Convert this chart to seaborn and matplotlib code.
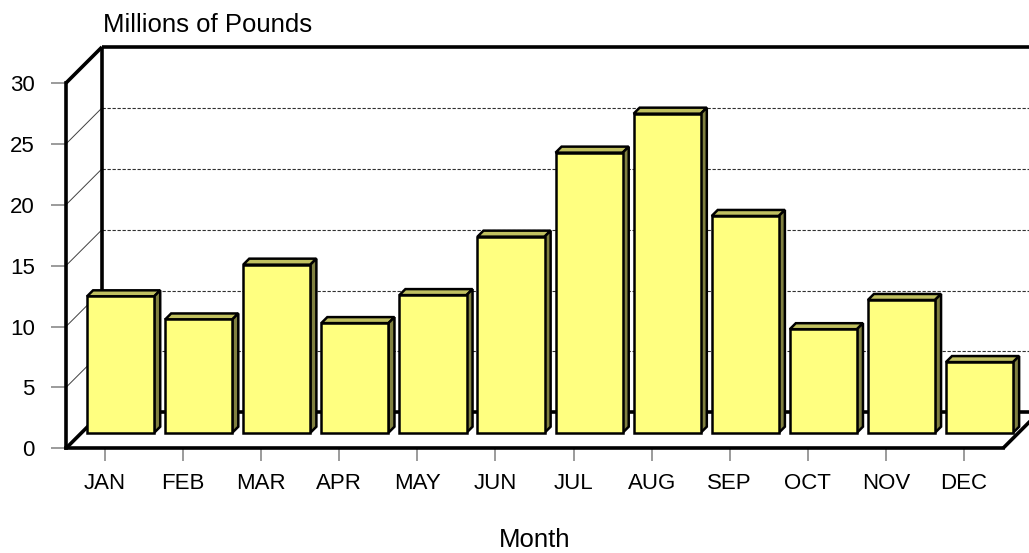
#============================= IMPORT LIBRARIES =============================

import pandas as pd
import numpy as np
import seaborn as sns
import matplotlib
matplotlib.use("Agg")
import matplotlib.pyplot as plt
from matplotlib.patches import Polygon

#============================= DATA =========================================

months = ["JAN", "FEB", "MAR", "APR", "MAY", "JUN",
          "JUL", "AUG", "SEP", "OCT", "NOV", "DEC"]
pounds = [11.2, 9.3, 13.8, 9.0, 11.3, 16.1,
          23.0, 26.2, 17.8, 8.5, 10.9, 5.8]
y_ticks = [0, 5, 10, 15, 20, 25, 30]

df = pd.DataFrame({"Month": months, "Pounds": pounds})

#============================= STYLE ========================================

sns.set_theme(style="white")
plt.rcParams['font.family'] = ['Liberation Sans', 'DejaVu Sans']
plt.rcParams['text.color'] = "black"
plt.rcParams['axes.labelcolor'] = "black"

W, H, DPI = 1029, 553, 100
front_col = "#FFFF80"
top_col = "#C0C060"
side_col = "#808040"
edge_lw = 1.8

# depth of the 3d box in pixels
wall_d = 36
bar_d0 = 15.6
bar_d1 = 21.6

fig = plt.figure(figsize=(W / DPI, H / DPI), dpi=DPI)
ax = fig.add_axes([66 / W, 1 - 448.3 / H, (1003 - 66) / W, (448.3 - 83) / H])

#============================= BARS =========================================

sns.barplot(data=df, x="Month", y="Pounds", color=front_col, saturation=1,
            width=0.86, edgecolor="black", linewidth=edge_lw, ax=ax, zorder=3)

ax.set_xlim(-0.5, len(months) - 0.5)
ax.set_ylim(0, 30)

# pixel -> data scale
p0 = ax.transData.transform((0, 0))
sx = ax.transData.transform((1, 0))[0] - p0[0]
sy = ax.transData.transform((0, 1))[1] - p0[1]

def shift(d):
    return d / sx, d / sy

fx, fy = shift(bar_d0)
bx, by = shift(bar_d1)
wx, wy = shift(wall_d)

for p in list(ax.patches):
    x = p.get_x()
    w = p.get_width()
    h = p.get_height()
    p.set_xy((x + fx, fy))
    p.set_clip_on(False)
    top = Polygon([(x + fx, h + fy), (x + w + fx, h + fy),
                   (x + w + bx, h + by), (x + bx, h + by)],
                  closed=True, facecolor=top_col, edgecolor="black",
                  linewidth=edge_lw, zorder=2.5, clip_on=False)
    side = Polygon([(x + w + fx, fy), (x + w + fx, h + fy),
                    (x + w + bx, h + by), (x + w + bx, by)],
                   closed=True, facecolor=side_col, edgecolor="black",
                   linewidth=edge_lw, zorder=2.5, clip_on=False)
    ax.add_patch(top)
    ax.add_patch(side)

#============================= WALLS / GRID =================================

x0, x1 = -0.5, len(months) - 0.5
far = x1 + 1.0

for v in y_ticks[1:-1]:
    # back wall dashed
    ax.plot([x0 + wx, far], [v + wy, v + wy], color="#303030", lw=0.8,
            ls=(0, (3, 1.5)), zorder=1, clip_on=False)
    # side wall
    ax.plot([x0, x0 + wx], [v, v + wy], color="#404040", lw=0.7,
            zorder=1, clip_on=False)

thick = dict(color="black", lw=2.6, solid_capstyle="butt", clip_on=False, zorder=2)
ax.plot([x0 + wx, far], [wy, wy], **thick)
ax.plot([x0 + wx, far], [30 + wy, 30 + wy], **thick)
ax.plot([x0 + wx, x0 + wx], [wy, 30 + wy], **thick)
ax.plot([x0, x0 + wx], [30, 30 + wy], **thick)
ax.plot([x0, x0 + wx], [0, wy], **thick)
ax.plot([x1, x1 + wx], [0, wy], **thick)

#============================= AXES =========================================

sns.despine(ax=ax, top=True, right=True)
for s in ['left', 'bottom']:
    ax.spines[s].set_linewidth(2.6)
    ax.spines[s].set_color("black")
    ax.spines[s].set_zorder(4)

ax.set_yticks(y_ticks)
ax.set_yticklabels([str(t) for t in y_ticks])
ax.tick_params(axis="y", direction="out", length=11, width=1.1, color="#808080",
               pad=11.5, labelsize=16, labelcolor="black", left=True)
ax.tick_params(axis="x", direction="out", length=9.5, width=1.1, color="#808080",
               pad=8, labelsize=16, labelcolor="black", bottom=True)
ax.set_xlabel("")
ax.set_ylabel("")
ax.grid(False)

fig.text(103 / W, 1 - 31.7 / H, "Millions of Pounds", fontsize=18.5,
         color="black", ha="left", va="baseline")
fig.text(534.5 / W, 1 - 547 / H, "Month", fontsize=18.5,
         color="black", ha="center", va="baseline")

plt.savefig("out.png", dpi=DPI, facecolor="white")
